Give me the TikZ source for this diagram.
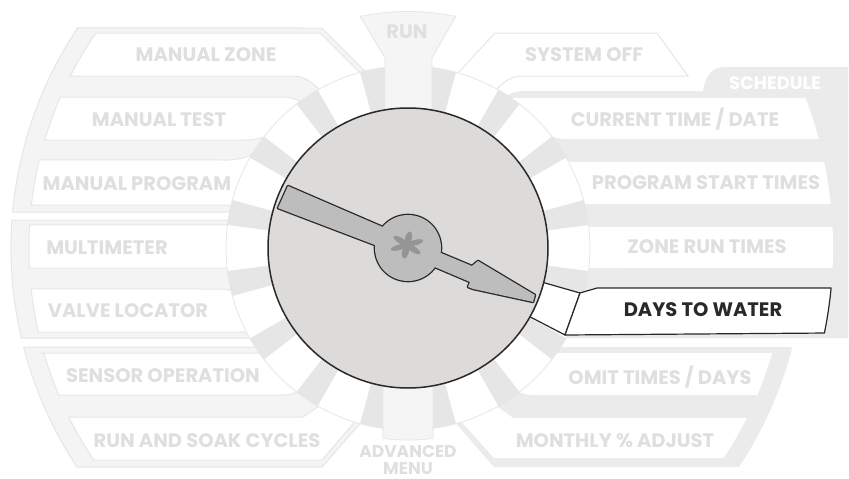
\documentclass[tikz,border=0pt]{standalone}
\usepackage{fontspec}
\setmainfont{Poppins}
\usetikzlibrary{calc}
\definecolor{gfill}{HTML}{F4F4F4}
\definecolor{gline}{HTML}{E6E6E6}
\definecolor{gtext}{HTML}{DFDFDF}
\definecolor{schfill}{HTML}{EBEBEB}
\definecolor{wedgec}{HTML}{E6E6E6}
\definecolor{stemfill}{HTML}{F5F5F5}
\definecolor{dialfill}{HTML}{DCDBD9}
\definecolor{ptrfill}{HTML}{BDBDBD}
\definecolor{ink}{HTML}{2A2928}
\definecolor{aster}{HTML}{959595}
\begin{document}
\begin{tikzpicture}[x=1pt,y=1pt,
  grp/.style={fill=gfill, draw=gline, line width=1},
  fbox/.style={fill=white, draw=gline, line width=1},
  sbox/.style={fill=white},
  sch/.style={fill=schfill},
  stem/.style={fill=stemfill, draw=gline, line width=0.8},
  lbl/.style={text=gtext, font=\fontsize{19.5}{19.5}\selectfont\bfseries, inner sep=0pt},
  hot/.style={fill=white, draw=ink, line width=1.2, line join=round}]
\useasboundingbox (0,0) rectangle (849,-479);
\coordinate (C) at (408,-248);

% ---- left groups
\path[grp] (12.6,-212) arc[start angle=174.8, end angle=146.35, radius=397] -- (322,-28) -- (382,-88) -- (250,-212) -- cycle;
\path[fbox] (70.3,-76) arc[start angle=153.01, end angle=145.44, radius=379] -- (320,-33) -- (378,-91) -- (325,-95) .. controls (312,-82) and (305,-76) .. (292,-76) -- cycle;
\path[fbox] (44.7,-140) arc[start angle=163.44, end angle=156.52, radius=379] -- (283,-97) .. controls (295,-97) and (305,-103) .. (320,-115) -- (275,-134) .. controls (262,-138) and (255,-140) .. (245,-140) -- cycle;
\path[fbox] (31.4,-205) arc[start angle=173.49, end angle=166.57, radius=379] -- (228,-160) .. controls (240,-160) and (250,-156) .. (262,-150) -- (245,-205) -- cycle;

\path[grp] (21.3,-338) arc[start angle=193.1, end angle=175.96, radius=397] -- (250,-220) -- (265,-338) -- cycle;
\path[fbox] (29.5,-268) arc[start angle=183.03, end angle=176.52, radius=379] -- (250,-225) -- (250,-268) -- cycle;
\path[fbox] (38.4,-332) arc[start angle=192.81, end angle=186.21, radius=379] -- (220,-289) .. controls (228,-289) and (236,-292) .. (250,-297) -- (270,-326) .. controls (258,-330) and (250,-332) .. (240,-332) -- cycle;

\path[grp] (23.6,-347) -- (270,-347) -- (371,-411) -- (322,-467) -- (76.9,-467) arc[start angle=213.48, end angle=194.44, radius=397] -- cycle;
\path[fbox] (43.8,-353) -- (270,-353) -- (308,-386) .. controls (298,-392) and (292,-395) .. (283,-395) -- (58.7,-395) arc[start angle=202.82, end angle=196.08, radius=379] -- cycle;
\path[fbox] (68.8,-417) -- (303,-417) -- (325,-402) -- (365,-410) -- (322,-460) -- (93.8,-460) arc[start angle=214.01, end angle=206.48, radius=379] -- cycle;

% ---- right groups
\path[sch] (500,-100) .. controls (510,-93) and (515,-91) .. (525,-91) -- (703,-91) .. controls (706,-75) and (712,-67) .. (725,-67) -- (848,-67) -- (848,-338) -- (560,-338) -- (540,-250) -- cycle;
\path[sbox] (500,-98) -- (805.6,-98) arc[start angle=20.67, end angle=14.86, radius=425] -- (565,-139) .. controls (556,-139) and (550,-136) .. (540,-130) -- cycle;
\path[sbox] (560,-158) .. controls (570,-162) .. (580,-162) -- (824.2,-162) arc[start angle=11.68, end angle=5.94, radius=425] -- (590,-204) .. controls (580,-204) .. (570,-200) -- cycle;
\path[sbox] (570,-227) -- (832.5,-227) arc[start angle=2.83, end angle=-2.70, radius=425] -- (570,-268) -- cycle;

\path[sch] (546,-347) -- (792.4,-347) arc[start angle=-14.44, end angle=-33.48, radius=397] -- (494,-467) -- (445,-411) -- cycle;
\path[sbox] (546,-353) -- (772.2,-353) arc[start angle=-16.08, end angle=-22.82, radius=379] -- (533,-395) .. controls (524,-395) and (518,-392) .. (508,-386) -- cycle;
\path[sbox] (451,-410) -- (491,-402) -- (513,-418) -- (746.8,-418) arc[start angle=-26.65, end angle=-33.65, radius=379] -- (494,-458) -- cycle;

\path[fbox] (495,-33) -- (657,-33) -- (688,-76) -- (522,-76) .. controls (510,-76) and (500,-84) .. (490,-97) -- (445,-87) -- cycle;

% ---- ring
\fill[white] (C) circle[radius=182];
\foreach \k in {0,...,15} {
  \pgfmathsetmacro\m{78.75-22.5*\k}
  \fill[wedgec] (C) -- ($(C)+({\m-4}:182)$) arc[start angle={\m-4}, end angle={\m+4}, radius=182] -- cycle;
}
\draw[gline, line width=0.8] (C) circle[radius=182];

% ---- stems
\path[stem] (385,-150) -- (385,-58) -- (360,-16.4) arc[start angle=101.7, end angle=78.3, radius=236.5] -- (432,-58) -- (432,-150) -- cycle;
\path[stem] (383,-150) -- (382.9,-438.4) arc[start angle=262.5, end angle=277.5, radius=192] -- (433.1,-150) -- cycle;

% ---- highlighted position
\path[hot] (525,-277.3) -- (580,-293) -- (565,-335) -- (515,-309) -- cycle;
\path[hot] (580,-293) -- (597,-288) -- (831.1,-288) arc[start angle=-5.40, end angle=-11.54, radius=425] -- (565,-335) -- cycle;

% ---- dial
\draw[fill=dialfill, draw=ink, line width=1.5] (C) circle[radius=140];
\begin{scope}[shift={(C)}, rotate=-22]
  \draw[ink, line width=2.6, line join=round]
    (-30,10) -- (-134.5,12.5) -- (-135.5,-11.7) -- (-30,-9.6) -- cycle
    (0,0) circle[radius=33]
    (25,7.8) -- (66,7.3) -- (69.8,14.2) -- (135.3,4) -- (136.1,-3.2) -- (75.7,-13.6) -- (70.2,-13.7) -- (70.2,-8.3) -- (25,-7.5) -- cycle;
  \fill[ptrfill]
    (-30,10) -- (-134.5,12.5) -- (-135.5,-11.7) -- (-30,-9.6) -- cycle
    (25,7.8) -- (66,7.3) -- (69.8,14.2) -- (135.3,4) -- (136.1,-3.2) -- (75.7,-13.6) -- (70.2,-13.7) -- (70.2,-8.3) -- (25,-7.5) -- cycle;
  \fill[ptrfill] (0,0) circle[radius=33];
\end{scope}
\begin{scope}[shift={($(C)+(-1,3)$)}, yscale=0.8]
  \foreach \t in {20,80,140,200,260,320}
    \fill[aster, rotate=\t] (8.5,0) ellipse[x radius=8.5, y radius=3.4];
\end{scope}

% ---- labels
\node[lbl] (lmz) at (206,-55) {MANUAL ZONE};
\node[lbl] (lmt) at (159,-120) {MANUAL TEST};
\node[lbl] (lmp) at (137,-184) {MANUAL PROGRAM};
\node[lbl] (lmm) at (107,-248) {MULTIMETER};
\node[lbl] (lvl) at (128,-311) {VALVE LOCATOR};
\node[lbl] (lso) at (163,-376) {SENSOR OPERATION};
\node[lbl] (lrs) at (207,-441) {RUN AND SOAK CYCLES};
\node[lbl] (lrun) at (407,-32) {RUN};
\node[lbl] (lsys) at (584,-55) {SYSTEM OFF};
\node[lbl] (lct) at (675,-119) {CURRENT TIME / DATE};
\node[lbl] (lps) at (706,-183) {PROGRAM START TIMES};
\node[lbl] (lzr) at (707,-247) {ZONE RUN TIMES};
\node[lbl] (lom) at (660,-377) {OMIT TIMES / DAYS};
\node[lbl] (lmo) at (615,-441) {MONTHLY \% ADJUST};
\node[lbl, align=center, font=\fontsize{17}{17.5}\selectfont\bfseries] (lad) at (408,-460) {ADVANCED\\MENU};
\node[lbl, text=white, font=\fontsize{18}{18}\selectfont\bfseries] (lsch) at (775,-83) {SCHEDULE};
\node[lbl, text=ink] (ldw) at (703,-310) {DAYS TO WATER};
\end{tikzpicture}
\end{document}
